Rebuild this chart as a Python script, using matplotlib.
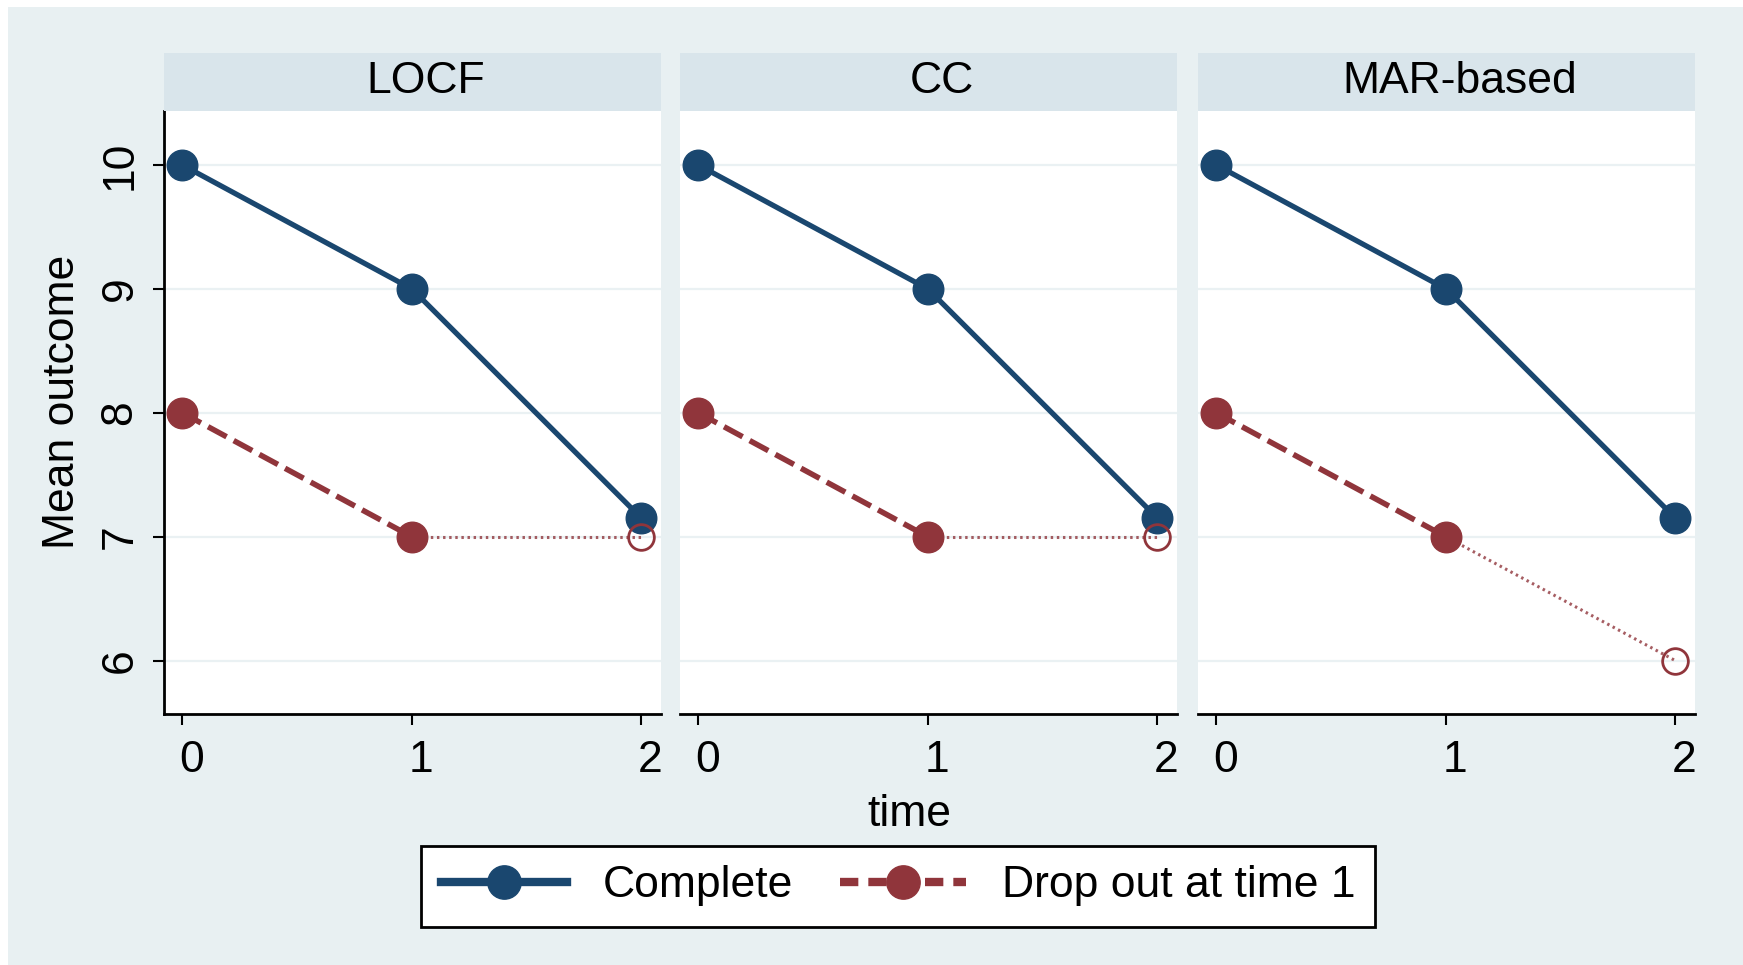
import matplotlib
matplotlib.use("Agg")
import matplotlib.pyplot as plt
import matplotlib.transforms as mtransforms
from matplotlib.lines import Line2D
from matplotlib.patches import Rectangle

plt.rcParams['font.family'] = ['Liberation Sans', 'DejaVu Sans']

panels = ["LOCF", "CC", "MAR-based"]
time = [0, 1, 2]
complete = [10, 9, 7.15]
dropout_obs = [8, 7]
dropout_imputed = {"LOCF": 7, "CC": 7, "MAR-based": 6}
yticks = [6, 7, 8, 9, 10]
xticks = [0, 1, 2]

NAVY = "#1a476f"
MAROON = "#90353b"
BG = "#e8f0f2"
STRIP = "#d9e5eb"
GRID = "#eaf1f3"
FS = 32

W, H = 1743, 965
fig = plt.figure(figsize=(W / 100, H / 100), dpi=100)
fig.patch.set_facecolor("white")
fig.add_artist(Rectangle((8 / W, 0), 1 - 8 / W, 1 - 7 / H, transform=fig.transFigure,
                         facecolor=BG, edgecolor="none", zorder=-10))

def fx(px):
    return px / W

def fy(py):
    return 1 - py / H

lefts = [164, 680, 1198]
pw = 497
top_strip, bot_strip, bottom = 52.5, 110.5, 714

shift = mtransforms.ScaledTranslation(9 / 100, 0, fig.dpi_scale_trans)
strip_shift = mtransforms.ScaledTranslation(13 / 100, 0, fig.dpi_scale_trans)

for i, (name, lx) in enumerate(zip(panels, lefts)):
    ax = fig.add_axes([fx(lx), fy(bottom), pw / W, (bottom - bot_strip) / H])
    ax.set_facecolor("white")
    ax.set_xlim(-0.08, 2.085)
    ax.set_ylim(5.57, 10.44)
    for y in yticks:
        ax.axhline(y, color=GRID, lw=1.6, zorder=0)
    ax.plot(time, complete, color=NAVY, lw=3.8, marker="o", ms=22,
            markerfacecolor=NAVY, markeredgecolor=NAVY, zorder=4)
    ax.plot(time[:2], dropout_obs, color=MAROON, lw=4.0, ls=(0, (3.8, 1.45)),
            marker="o", ms=22, markerfacecolor=MAROON, markeredgecolor=MAROON, zorder=3)
    ax.plot([time[1], time[2]], [dropout_obs[1], dropout_imputed[name]], color=MAROON,
            lw=2.2, ls=(0, (0.8, 1.2)), alpha=0.8, zorder=2)
    ax.plot([time[2]], [dropout_imputed[name]], marker="o", ms=18.5, ls="none",
            markerfacecolor="none", markeredgecolor=MAROON, mew=2.0, zorder=5)
    for s in ["top", "right"]:
        ax.spines[s].set_visible(False)
    ax.spines["bottom"].set_linewidth(2)
    ax.spines["left"].set_linewidth(2)
    if i > 0:
        ax.spines["left"].set_visible(False)
    ax.set_xticks(xticks)
    ax.set_xticklabels([str(t) for t in xticks], fontsize=FS)
    ax.tick_params(axis="x", length=8, width=1.5, pad=11)
    for lab in ax.get_xticklabels():
        lab.set_transform(lab.get_transform() + shift)
    if i == 0:
        ax.set_yticks(yticks)
        ax.set_yticklabels([str(t) for t in yticks], fontsize=FS, rotation=90, va="center")
        ax.tick_params(axis="y", length=8, width=1.5, pad=9)
    else:
        ax.set_yticks([])
    # strip
    sax = fig.add_axes([fx(lx), fy(bot_strip), pw / W, (bot_strip - top_strip) / H])
    sax.set_facecolor(STRIP)
    sax.set_xticks([]); sax.set_yticks([])
    for s in sax.spines.values():
        s.set_visible(False)
    sax.text(0.5, 0.5, name, ha="center", va="center", fontsize=FS,
             transform=sax.transAxes + strip_shift)

fig.text(fx(63), fy(402), "Mean outcome", ha="center", va="center", rotation=90, fontsize=FS)
fig.text(fx(909), fy(814), "time", ha="center", va="center", fontsize=FS)

handles = [
    Line2D([0], [0], color=NAVY, lw=6.0, marker="o", ms=24, markerfacecolor=NAVY, markeredgecolor=NAVY),
    Line2D([0], [0], color=MAROON, lw=6.0, ls=(0, (2.2, 1.2)), marker="o", ms=24,
           markerfacecolor=MAROON, markeredgecolor=MAROON),
]
leg = fig.legend(handles, ["Complete", "Drop out at time 1"], loc="center",
                 bbox_to_anchor=(fx(898), fy(886)), ncol=2, fontsize=FS, frameon=True,
                 fancybox=False, edgecolor="black", facecolor="white", framealpha=1,
                 handlelength=2.84, handletextpad=0.8, columnspacing=1.05,
                 borderpad=0.45)
leg.get_frame().set_linewidth(2)

fig.savefig("out.png", dpi=100, facecolor=fig.get_facecolor())
